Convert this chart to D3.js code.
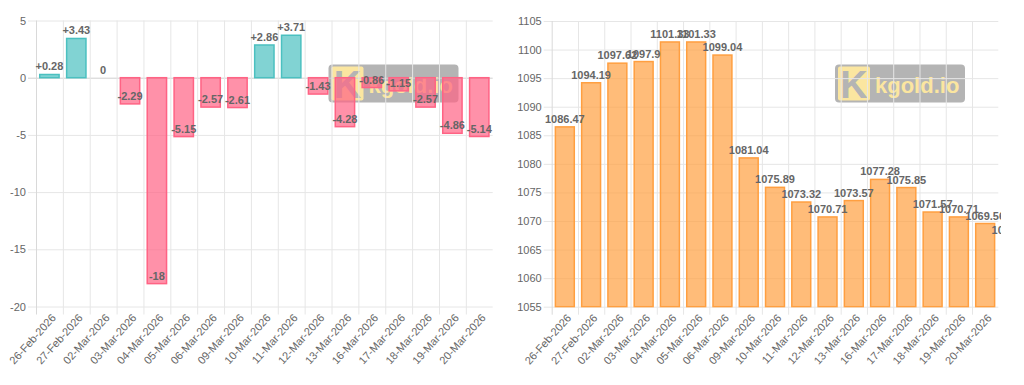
<!DOCTYPE html>
<html>
<head>
<meta charset="utf-8">
<script src="https://d3js.org/d3.v7.min.js"></script>
<style>
  html, body { margin: 0; padding: 0; background: #fff; }
  svg { display: block; font-family: "Liberation Sans", Arial, Helvetica, sans-serif; }
</style>
</head>
<body>
<div id="chart"></div>
<script>
// --- dados ---
const dates = ["26-Feb-2026", "27-Feb-2026", "02-Mar-2026", "03-Mar-2026", "04-Mar-2026", "05-Mar-2026",
  "06-Mar-2026", "09-Mar-2026", "10-Mar-2026", "11-Mar-2026", "12-Mar-2026", "13-Mar-2026",
  "16-Mar-2026", "17-Mar-2026", "18-Mar-2026", "19-Mar-2026", "20-Mar-2026"];
const changes = [0.28, 3.43, 0, -2.29, -18, -5.15, -2.57, -2.61, 2.86, 3.71, -1.43, -4.28, -0.86, -1.15, -2.57, -4.86, -5.14];
// the last price has no date: its bar falls outside the plot, only its label shows at the edge
const prices = [1086.47, 1094.19, 1097.62, 1097.9, 1101.33, 1101.33, 1099.04, 1081.04, 1075.89, 1073.32,
  1070.71, 1073.57, 1077.28, 1075.85, 1071.57, 1070.71, 1069.56, 1067.03];
const changeTicks = [-20, -15, -10, -5, 0, 5];
const priceTicks = [1055, 1060, 1065, 1070, 1075, 1080, 1085, 1090, 1095, 1100, 1105];

const W = 1024, H = 385;
const gridColor = "#e6e6e6";
const textColor = "#666";

const svg = d3.select("#chart").append("svg")
  .attr("width", W).attr("height", H)
  .attr("viewBox", `0 0 ${W} ${H}`);

const defs = svg.append("defs");

function drawChart(id, o) {
  const g = svg.append("g");

  defs.append("clipPath").attr("id", id + "-plot")
    .append("rect").attr("x", o.x0).attr("y", o.top - 1)
    .attr("width", o.x1 - o.x0).attr("height", o.bottom - o.top + 2);
  defs.append("clipPath").attr("id", id + "-canvas")
    .append("rect").attr("x", o.cL).attr("y", 0)
    .attr("width", o.cR - o.cL).attr("height", H);

  const y = d3.scaleLinear().domain([o.ticks[0], o.ticks[o.ticks.length - 1]]).range([o.bottom, o.top]);
  const xd = d3.scaleBand().domain(dates).range([o.x0, o.x1]);
  const bw = xd.bandwidth();
  const x = d3.scaleBand().domain(d3.range(o.values.length))
    .range([o.x0, o.x0 + bw * o.values.length])
    .paddingInner(0.28).paddingOuter(0.14);

  // watermark (desenhado primeiro, fica por baixo)
  const wm = g.append("g").attr("transform", `translate(${o.wmX},64.5)`);
  wm.append("rect").attr("width", 130).attr("height", 38).attr("rx", 4).attr("fill", "#b4b4b4");
  wm.append("rect").attr("x", 3).attr("y", 2).attr("width", 32).attr("height", 34).attr("rx", 2).attr("fill", "#fbe6a0");
  wm.append("text").attr("x", 19).attr("y", 33).attr("text-anchor", "middle")
    .attr("font-size", 38).attr("font-weight", "bold").attr("fill", "#b4b4b4").text("K");
  wm.append("text").attr("x", 40).attr("y", 28).attr("font-size", 22).attr("font-weight", "bold")
    .attr("fill", "#fbe6a0").text("kgold.io");

  // grade horizontal
  g.append("g").selectAll("line").data(o.ticks).join("line")
    .attr("x1", o.x0 - 8).attr("x2", o.x1)
    .attr("y1", d => y(d) + 0.5).attr("y2", d => y(d) + 0.5)
    .attr("stroke", d => (d === 0 ? "#cfcfcf" : gridColor)).attr("stroke-width", 1);

  // grade vertical
  g.append("g").selectAll("line").data(dates).join("line")
    .attr("x1", d => xd(d) + 0.5).attr("x2", d => xd(d) + 0.5)
    .attr("y1", o.top).attr("y2", o.bottom + 8)
    .attr("stroke", (d, i) => (i === 0 ? "#d9d9d9" : gridColor));

  // eixo y
  const yAxis = g.append("g").attr("transform", `translate(${o.x0 - 10},0)`)
    .call(d3.axisLeft(y).tickValues(o.ticks).tickFormat(d => String(d)).tickSize(0).tickPadding(0));
  yAxis.select(".domain").remove();
  yAxis.selectAll("text").attr("fill", textColor).attr("font-size", 11)
    .attr("font-family", "Liberation Sans, Arial, sans-serif");

  // eixo x
  const xAxis = g.append("g").attr("transform", `translate(0,${o.bottom + 8})`)
    .call(d3.axisBottom(xd).tickSize(0).tickPadding(0));
  xAxis.select(".domain").remove();
  xAxis.selectAll("text")
    .attr("fill", textColor).attr("font-size", 11)
    .attr("font-family", "Liberation Sans, Arial, sans-serif")
    .attr("text-anchor", "end")
    .attr("dy", "0.5em")
    .attr("transform", "translate(3,0) rotate(-48)");

  // barras
  g.append("g").attr("clip-path", `url(#${id}-plot)`)
    .selectAll("rect").data(o.values).join("rect")
    .attr("x", (d, i) => x(i))
    .attr("width", x.bandwidth())
    .attr("y", d => Math.min(y(d), y(o.base)))
    .attr("height", d => Math.abs(y(d) - y(o.base)))
    .attr("fill", d => o.fill(d))
    .attr("stroke", d => o.stroke(d))
    .attr("stroke-width", 1.5);

  // rótulos
  g.append("g").attr("clip-path", `url(#${id}-canvas)`)
    .selectAll("text").data(o.values).join("text")
    .attr("x", (d, i) => x(i) + x.bandwidth() / 2)
    .attr("y", d => y(d) - 4)
    .attr("text-anchor", "middle")
    .attr("font-size", 11).attr("font-weight", "bold")
    .attr("fill", textColor)
    .text(o.fmt);
}

drawChart("chg", {
  x0: 36, x1: 492.7, top: 20.5, bottom: 306.5, cL: 0, cR: 496,
  values: changes, ticks: changeTicks, base: 0, wmX: 328.5,
  fill: d => (d >= 0 ? "rgba(75,192,192,0.7)" : "rgba(255,99,132,0.7)"),
  stroke: d => (d >= 0 ? "rgb(75,192,192)" : "rgb(255,99,132)"),
  fmt: d => (d > 0 ? "+" + d : String(d))
});

drawChart("price", {
  x0: 551.7, x1: 998.3, top: 21, bottom: 306.7, cL: 505, cR: 1001,
  values: prices, ticks: priceTicks, base: 1055, wmX: 835,
  fill: () => "rgba(255,159,64,0.7)",
  stroke: () => "rgb(255,159,64)",
  fmt: d => String(d)
});
</script>
</body>
</html>
